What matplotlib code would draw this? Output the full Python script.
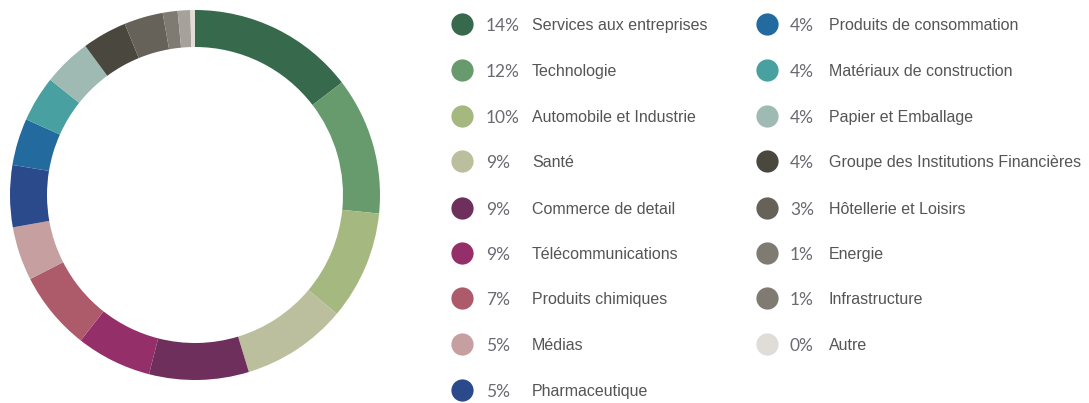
import matplotlib
matplotlib.use("Agg")
import matplotlib.pyplot as plt

sectors = ["Services aux entreprises", "Technologie", "Automobile et Industrie",
           "Santé", "Commerce de detail", "Télécommunications", "Produits chimiques",
           "Médias", "Pharmaceutique", "Produits de consommation",
           "Matériaux de construction", "Papier et Emballage",
           "Groupe des Institutions Financières", "Hôtellerie et Loisirs",
           "Energie", "Infrastructure", "Autre"]
shares = [14.6, 12.0, 9.5, 9.2, 8.7, 6.6, 6.9, 4.7, 5.4, 4.1, 4.0, 4.2,
          3.9, 3.4, 1.3, 1.1, 0.4]
pct_labels = ["14%", "12%", "10%", "9%", "9%", "9%", "7%", "5%", "5%",
              "4%", "4%", "4%", "4%", "3%", "1%", "1%", "0%"]
colors = ["#376a4d", "#679b6d", "#a5b880", "#bbbf9e", "#6e2f5c", "#952f6a",
          "#ad5b6b", "#c69fa0", "#2b4a8c", "#236b9e", "#48a1a0", "#9fbab3",
          "#4a473f", "#66625a", "#7f7b73", "#a6a19b", "#e0dcd8"]
legend_colors = colors[:15] + ["#7f7b73", "#e0dcd8"]

plt.rcParams['font.family'] = ['Liberation Sans', 'DejaVu Sans']

fig = plt.figure(figsize=(10.89, 4.03), dpi=100)

# Donut
ax = fig.add_axes([10 / 1089, 1 - 380 / 403, 370 / 1089, 370 / 403])
ax.pie(shares, colors=colors, startangle=90, counterclock=False,
       radius=1.0, wedgeprops=dict(width=0.2, linewidth=0))
ax.set_aspect("equal")
ax.set_xlim(-1, 1)
ax.set_ylim(-1, 1)

# Legend, two columns drawn in figure pixel coords
lax = fig.add_axes([0, 0, 1, 1])
lax.set_xlim(0, 1089)
lax.set_ylim(403, 0)
lax.axis("off")

row_y = [24, 70, 116, 161, 208, 253, 298, 344, 390]
cols = [(462, 486, 532), (767, 790, 829)]
for i, (name, pct, c) in enumerate(zip(sectors, pct_labels, legend_colors)):
    col = 0 if i < 9 else 1
    y = row_y[i if i < 9 else i - 9]
    xm, xp, xl = cols[col]
    lax.plot(xm, y, "o", ms=16, color=c, mec="none")
    lax.text(xp, y + 7, pct, fontsize=12.5, color="#6a6a72", va="baseline",
             ha="left", family=["Lato", "DejaVu Sans"])
    lax.text(xl, y + 6, name, fontsize=11.5, color="#555555", va="baseline",
             ha="left")

fig.savefig("out.png", dpi=100)
